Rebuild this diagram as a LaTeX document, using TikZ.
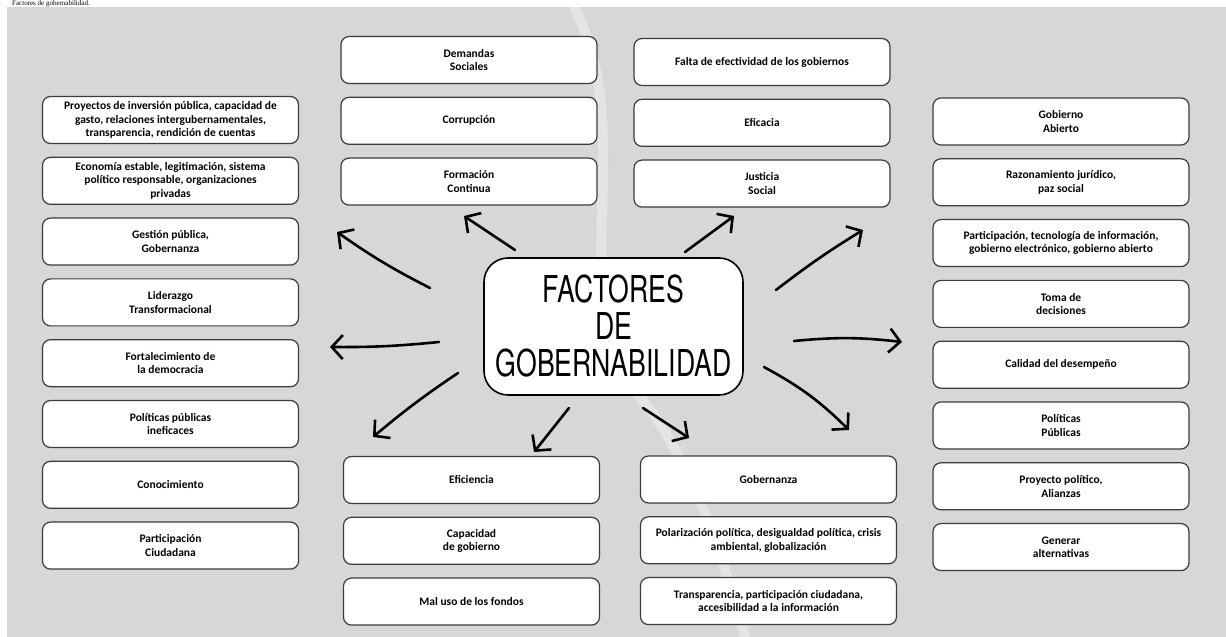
\documentclass[tikz,border=0pt]{standalone}
\usepackage{fontspec}
\setmainfont{Liberation Serif}
\newfontfamily\boxfont{Carlito}
\newfontfamily\titlefont{TeX Gyre Heros}
\usetikzlibrary{arrows.meta,calc,positioning}

\definecolor{paper}{RGB}{215,215,215}
\definecolor{boxline}{RGB}{60,60,60}
\newcommand{\titleline}[1]{\scalebox{0.72}[1]{#1}}

\begin{document}
\begin{tikzpicture}
    [x=1pt,y=1pt,node distance=12.6pt,
    factor/.style={draw=boxline,line width=1.2pt,fill=white,rounded corners=8pt,
      minimum width=256pt,minimum height=47pt,inner sep=2pt,align=center,
      font=\boxfont\bfseries\fontsize{11.5}{13.5}\selectfont},
    hub/.style={draw=black,line width=1.6pt,fill=white,rounded corners=24pt,
      minimum width=259pt,minimum height=137pt,align=center,
      font=\titlefont\fontsize{37}{37}\selectfont},
    flow/.style={line width=2.6pt,line cap=round,
      -{Straight Barb[length=11pt,width=24pt]}}]

    % page and paper
    \useasboundingbox (0,0) rectangle (1226,637);
    \fill[paper] (7,0) rectangle (1226,630);
    \draw[white,opacity=.35,line width=10pt,line cap=round]
      (575,628) .. controls (640,500) and (560,330) .. (640,240)
      .. controls (690,180) and (720,90) .. (745,0);
    \node[anchor=base west,inner sep=0pt,font=\fontsize{7}{7}\selectfont]
      (caption) at (12,631.8) {Factores de gobernabilidad.};

    % central node
    \node[hub] (factores) at (613.5,310.5)
      {\titleline{FACTORES}\\\titleline{DE}\\\titleline{GOBERNABILIDAD}};

    % left column
    \node[factor] (proyectos) at (170.5,517)
      {Proyectos de inversión pública, capacidad de\\gasto, relaciones intergubernamentales,\\transparencia, rendición de cuentas};
    \node[factor] (economia) [below=of proyectos]
      {Economía estable, legitimación, sistema\\político responsable, organizaciones\\privadas};
    \node[factor] (gestion) [below=of economia] {Gestión pública,\\Gobernanza};
    \node[factor] (liderazgo) [below=of gestion] {Liderazgo\\Transformacional};
    \node[factor] (democracia) [below=of liderazgo] {Fortalecimiento de\\la democracia};
    \node[factor] (ineficaces) [below=of democracia] {Políticas públicas\\ineficaces};
    \node[factor] (conocimiento) [below=of ineficaces] {Conocimiento};
    \node[factor] (participacion) [below=of conocimiento] {Participación\\Ciudadana};

    % inner left column
    \node[factor] (demandas) at (469,577) {Demandas\\Sociales};
    \node[factor] (corrupcion) [below=of demandas] {Corrupción};
    \node[factor] (formacion) [below=of corrupcion] {Formación\\Continua};
    \node[factor] (eficiencia) at (471.5,157) {Eficiencia};
    \node[factor] (capacidad) [below=of eficiencia] {Capacidad\\de gobierno};
    \node[factor] (fondos) [below=of capacidad] {Mal uso de los fondos};

    % inner right column
    \node[factor] (falta) at (762,575) {Falta de efectividad de los gobiernos};
    \node[factor] (eficacia) [below=of falta] {Eficacia};
    \node[factor] (justicia) [below=of eficacia] {Justicia\\Social};
    \node[factor] (gobernanza) at (768.5,157.5) {Gobernanza};
    \node[factor] (polarizacion) [below=of gobernanza]
      {Polarización política, desigualdad política, crisis\\ambiental, globalización};
    \node[factor] (transparencia) [below=of polarizacion]
      {Transparencia, participación ciudadana,\\accesibilidad a la información};

    % right column
    \node[factor] (abierto) at (1061,515.5) {Gobierno\\Abierto};
    \node[factor] (razonamiento) [below=of abierto] {Razonamiento jurídico,\\paz social};
    \node[factor] (tecnologia) [below=of razonamiento]
      {Participación, tecnología de información,\\gobierno electrónico, gobierno abierto};
    \node[factor] (decisiones) [below=of tecnologia] {Toma de\\decisiones};
    \node[factor] (desempeno) [below=of decisiones] {Calidad del desempeño};
    \node[factor] (publicas) [below=of desempeno] {Políticas\\Públicas};
    \node[factor] (alianzas) [below=of publicas] {Proyecto político,\\Alianzas};
    \node[factor] (alternativas) [below=of alianzas] {Generar\\alternativas};

    % arrow ends
    \coordinate (s1) at (430,349);  \coordinate (e1) at (337,405);
    \coordinate (s2) at (515,387);  \coordinate (e2) at (464,421);
    \coordinate (s3) at (685,385);  \coordinate (e3) at (734,421);
    \coordinate (s4) at (776,347);  \coordinate (e4) at (863,407);
    \coordinate (s5) at (794,296);  \coordinate (e5) at (902,295);
    \coordinate (s6) at (764,270);  \coordinate (e6) at (849,207);
    \coordinate (s7) at (643,229);  \coordinate (e7) at (689,199);
    \coordinate (s8) at (569,229);  \coordinate (e8) at (534,185);
    \coordinate (s9) at (458,264);  \coordinate (e9) at (373,200);
    \coordinate (s10) at (439,295); \coordinate (e10) at (330,290);

    \draw[flow] (s1) to[bend left=4] (e1);
    \draw[flow] (s2) -- (e2);
    \draw[flow] (s3) -- (e3);
    \draw[flow] (s4) to[bend left=3] (e4);
    \draw[flow] (s5) to[bend left=6] (e5);
    \draw[flow] (s6) to[bend left=8] (e6);
    \draw[flow] (s7) -- (e7);
    \draw[flow] (s8) -- (e8);
    \draw[flow] (s9) to[bend right=3] (e9);
    \draw[flow] (s10) to[bend left=3] (e10);
  \end{tikzpicture}
\end{document}
